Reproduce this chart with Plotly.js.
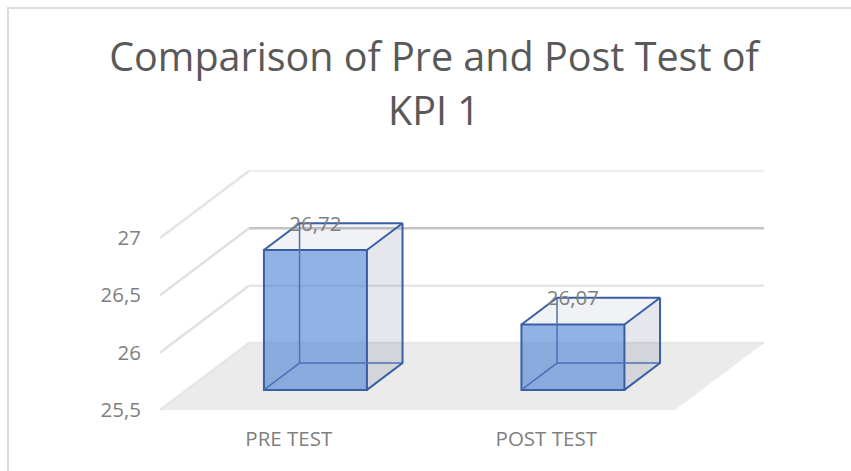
<!DOCTYPE html>
<html>
<head>
<meta charset="utf-8">
<script src="https://cdn.plot.ly/plotly-3.0.1.min.js"></script>
<style>
html,body{margin:0;padding:0;background:#fff;overflow:hidden}
#frame{position:absolute;left:7px;top:7px;width:844px;height:464px;border-top:2px solid #dcdcdc;border-left:2px solid #dcdcdc;box-sizing:border-box}
#chart{position:absolute;left:0;top:0;width:851px;height:471px}
</style>
</head>
<body>
<div id="frame"></div>
<div id="chart"></div>
<script>
const categories = ['PRE TEST', 'POST TEST'];
const values = [26.72, 26.07];
const yTicks = [25.5, 26, 26.5, 27];
const gridColors = ['#e6e6e6', '#e6e6e6', '#c4c4c4', '#efefef'];
const wallColors = ['#e6e6e6', '#e2e2e2', '#e0e0e0', '#e4e4e4'];

const BASE = 25.5;
const DX = 0.3456, DY = 0.584;          // oblique depth, in axis units for a full floor depth
const D0 = 0.3, D1 = 0.7;               // bar's extent along the depth
const BW = 0.4;                         // bar width in category units
const LABEL_DROP = 0.022;               // label sits just under the top back edge
const proj = (x, v, d) => [x + d * DX, v + d * DY];
const path = pts => 'M' + pts.map(p => p[0] + ' ' + p[1]).join('L');

const shapes = [];
const X0 = -0.5, X1 = categories.length - 0.5;

// floor
shapes.push({type:'path', layer:'below', xref:'x', yref:'y', line:{width:0}, fillcolor:'#ebebeb',
  path: path([proj(X0,BASE,0),proj(X0,BASE,1),proj(X1,BASE,1),proj(X1,BASE,0)]) + 'Z'});
// grid on side and back wall
yTicks.forEach((v,i) => {
  shapes.push({type:'path', layer:'below', xref:'x', yref:'y', fillcolor:'rgba(0,0,0,0)',
    line:{color:wallColors[i], width:2.5}, path: path([proj(X0,v,0),proj(X0,v,1)])});
  shapes.push({type:'path', layer:'below', xref:'x', yref:'y', fillcolor:'rgba(0,0,0,0)',
    line:{color:gridColors[i], width:2.5}, path: path([proj(X0,v,1),proj(X1,v,1)])});
});

const traces = [];
// front faces through the bar trace
traces.push({
  type:'bar', x: categories.map((c,i) => i + D0*DX),
  y: values.map(v => v - BASE), base: values.map(() => BASE + D0*DY),
  width: BW,
  marker:{color:'rgba(73,127,213,0.6)', line:{color:'#3a5fa5', width:2}},
  hoverinfo:'skip', showlegend:false
});

const poly = (pts, fill) => ({type:'scatter', mode:'lines', x:pts.map(p=>p[0]), y:pts.map(p=>p[1]),
  fill:'toself', fillcolor:fill, line:{width:0}, hoverinfo:'skip', showlegend:false});
const edge = (pts, color, w) => ({type:'scatter', mode:'lines', x:pts.map(p=>p[0]), y:pts.map(p=>p[1]),
  line:{color:color, width:w}, hoverinfo:'skip', showlegend:false});

values.forEach((v,i) => {
  const l = i - BW/2, r = i + BW/2;
  const fbr = proj(r,BASE,D0), bbr = proj(r,BASE,D1), bbl = proj(l,BASE,D1), fbl = proj(l,BASE,D0);
  const ftr = proj(r,v,D0), btr = proj(r,v,D1), btl = proj(l,v,D1), ftl = proj(l,v,D0);
  traces.push(poly([fbr,bbr,btr,ftr,fbr], 'rgba(68,88,128,0.14)'));
  traces.push(poly([ftl,ftr,btr,btl,ftl], 'rgba(68,88,128,0.08)'));
  traces.push(edge([fbl,bbl,bbr], '#4a72b8', 1.5));
  traces.push(edge([bbl,btl], '#4a72b8', 1.5));
  traces.push(edge([ftl,btl,btr,ftr], '#3a5fa5', 2));
  traces.push(edge([btr,bbr,fbr], '#3a5fa5', 2));
});

// data labels
traces.push({type:'scatter', mode:'text',
  x: values.map((v,i) => i + D0*DX),
  y: values.map(v => v + D1*DY - LABEL_DROP),
  text: values.map(v => v.toFixed(2).replace('.', ',')),
  textposition:'middle center',
  textfont:{family:'Open Sans', size:20.5, color:'#7f7f7f'},
  hoverinfo:'skip', showlegend:false});

const layout = {
  width:851, height:471,
  margin:{l:160, r:81, t:150, b:51, pad:0},
  paper_bgcolor:'rgba(0,0,0,0)', plot_bgcolor:'rgba(0,0,0,0)',
  separators:',.',
  showlegend:false,
  barmode:'overlay',
  title:{text:'<span style="font-size:39.5px">Comparison of Pre and Post Test of</span><br><span style="font-size:39.5px">KPI 1</span>',
    font:{family:'Open Sans', size:42, color:'#595959'},
    x:0.51, xanchor:'center', xref:'container', y:0.85, yanchor:'top'},
  xaxis:{range:[-0.5, 1.869], tickmode:'array', tickvals:categories.map((c,i)=>i), ticktext:categories,
    showgrid:false, zeroline:false, showline:false, ticks:'', ticklabelstandoff:4,
    tickfont:{family:'Open Sans', size:20.5, color:'#7f7f7f'}},
  yaxis:{range:[25.4128, 27.767], tickmode:'array', tickvals:yTicks,
    showgrid:false, zeroline:false, showline:false, ticks:'', ticklabelstandoff:18, ticklabelshift:2.5,
    tickfont:{family:'Open Sans', size:20.5, color:'#7f7f7f'}},
  shapes:shapes
};
Plotly.newPlot('chart', traces, layout, {displayModeBar:false, staticPlot:true});
</script>
</body>
</html>
